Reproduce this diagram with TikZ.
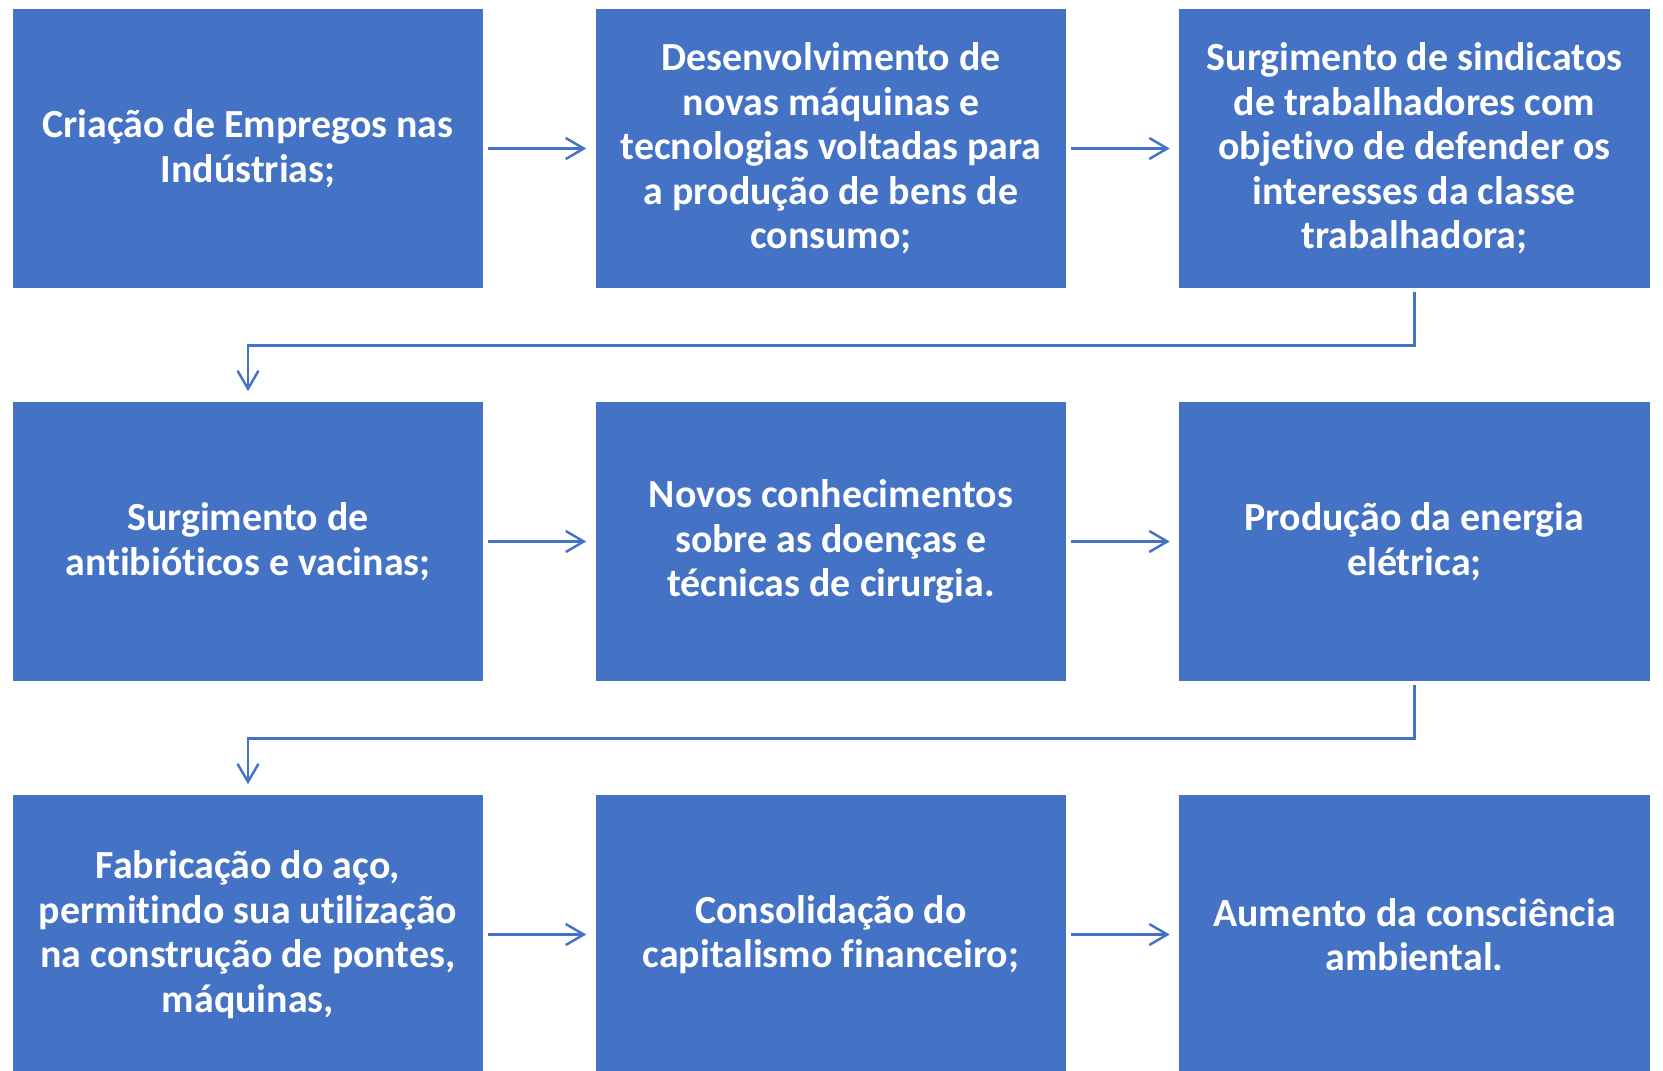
\documentclass[tikz,border=0pt]{standalone}
\usepackage{fontspec}
\setmainfont[Ligatures=NoCommon]{Carlito}
\usepackage{xcolor}
\usetikzlibrary{positioning,arrows.meta}
\definecolor{boxblue}{HTML}{4472C4}
\tikzset{
stagebox/.style={fill=boxblue, inner sep=0pt, minimum width=9.42cm, minimum height=5.6cm,
  align=center, text=white, font=\fontsize{22.7}{25.3}\selectfont\bfseries},
link/.style={draw=boxblue, line width=1.4pt, -{Straight Barb[length=0.36cm,width=0.42cm,line width=1.4pt]}}
}

\begin{document}
\begin{tikzpicture}[x=0.02cm,y=-0.02cm]
\useasboundingbox (0,0) rectangle (1663,1071);
\clip (0,0) rectangle (1663,1071);

% first row
\node[stagebox] (empregos) at (248,148.5) {Criação de Empregos nas\\Indústrias;};
\node[stagebox] (maquinas) at (831,148.5) {Desenvolvimento de\\novas máquinas e\\tecnologias voltadas para\\a produção de bens de\\consumo;};
\node[stagebox] (sindicatos) at (1414.5,148.5) {Surgimento de sindicatos\\de trabalhadores com\\objetivo de defender os\\interesses da classe\\trabalhadora;};

% second row
\node[stagebox] (antibioticos) at (248,541.5) {Surgimento de\\antibióticos e vacinas;};
\node[stagebox] (doencas) at (831,541.5) {Novos conhecimentos\\sobre as doenças e\\técnicas de cirurgia.};
\node[stagebox] (energia) at (1414.5,541.5) {Produção da energia\\elétrica;};

% third row
\node[stagebox] (aco) at (248,934.5) {Fabricação do aço,\\permitindo sua utilização\\na construção de pontes,\\máquinas,};
\node[stagebox] (capitalismo) at (831,934.5) {Consolidação do\\capitalismo financeiro;};
\node[stagebox] (ambiental) at (1414.5,934.5) {Aumento da consciência\\ambiental.};

\draw[link, shorten <=0.08cm, shorten >=0.18cm] (empregos) -- (maquinas);
\draw[link, shorten <=0.08cm, shorten >=0.18cm] (maquinas) -- (sindicatos);
\draw[link, shorten <=0.06cm, shorten >=0.2cm] (sindicatos.south) -- ++(0,56.5) -| (antibioticos.north);

\draw[link, shorten <=0.08cm, shorten >=0.18cm] (antibioticos) -- (doencas);
\draw[link, shorten <=0.08cm, shorten >=0.18cm] (doencas) -- (energia);
\draw[link, shorten <=0.06cm, shorten >=0.2cm] (energia.south) -- ++(0,56.5) -| (aco.north);

\draw[link, shorten <=0.08cm, shorten >=0.18cm] (aco) -- (capitalismo);
\draw[link, shorten <=0.08cm, shorten >=0.18cm] (capitalismo) -- (ambiental);
\end{tikzpicture}
\end{document}
